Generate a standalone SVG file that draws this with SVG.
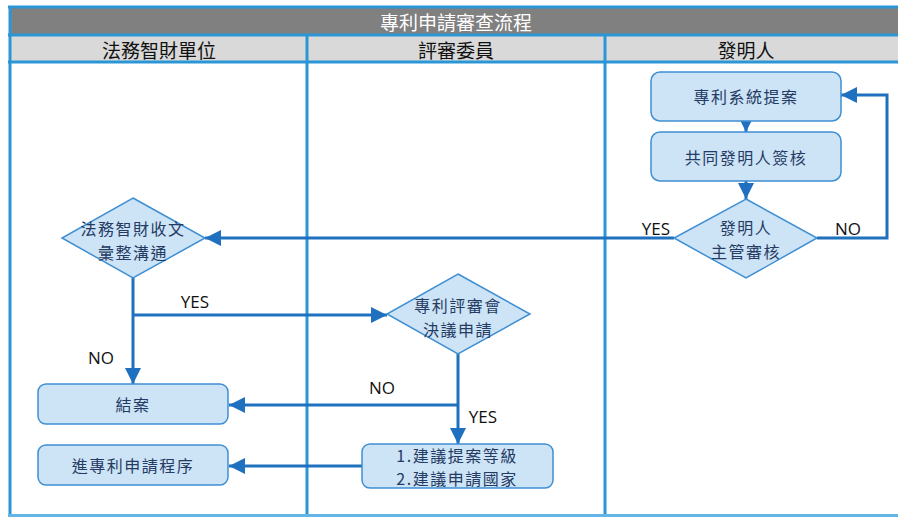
<svg xmlns="http://www.w3.org/2000/svg" width="898" height="517" viewBox="0 0 898 517">
<style>
.lane{stroke:#2b95d6;stroke-width:3;fill:none}
.node{fill:#cde3f6;stroke:#3f8fd2;stroke-width:1.5}
.nt{font-family:"Noto Sans CJK TC","Noto Sans",sans-serif;font-size:16px;letter-spacing:1.5px;fill:#243b63;text-anchor:middle;dominant-baseline:central}
.hd{font-family:"Noto Sans CJK TC",sans-serif;font-size:19px;text-anchor:middle;dominant-baseline:central}
.conn{stroke:#1f70be;stroke-width:3;fill:none}
.lb{font-family:"Open Sans","Noto Sans",sans-serif;font-size:17px;fill:#111;text-anchor:middle;dominant-baseline:central}
</style>
<defs>
<marker id="ah" markerUnits="userSpaceOnUse" markerWidth="16" markerHeight="16" refX="14" refY="7" orient="auto" viewBox="0 0 14 14">
<path d="M0,0 L14,7 L0,14 z" fill="#1f70be"/>
</marker>
</defs>
<rect x="0" y="0" width="898" height="517" fill="#fff"/>
<g id="frame">
<rect x="10" y="8" width="890" height="26" fill="#808080"/>
<rect x="10" y="35" width="890" height="27" fill="#d9d9d9"/>
<line class="lane" x1="8" y1="7" x2="898" y2="7"/>
<line class="lane" x1="8" y1="35" x2="898" y2="35"/>
<line class="lane" x1="8" y1="62" x2="898" y2="62"/>
<line class="lane" x1="10" y1="6" x2="10" y2="517"/>
<line class="lane" x1="307" y1="35" x2="307" y2="517"/>
<line class="lane" x1="605" y1="35" x2="605" y2="517"/>
<line x1="8" y1="515.5" x2="898" y2="515.5" stroke="#62b6e6" stroke-width="3"/>
<text class="hd" x="456" y="21" fill="#fff">專利申請審查流程</text>
<text class="hd" x="159" y="49" fill="#111">法務智財單位</text>
<text class="hd" x="456" y="49" fill="#111">評審委員</text>
<text class="hd" x="746" y="49" fill="#111">發明人</text>
</g>
<g id="connectors">
<path class="conn" d="M746,121 V132" marker-end="url(#ah)"/>
<path class="conn" d="M746,181 V199" marker-end="url(#ah)"/>
<path class="conn" d="M817,238 H887 V95 H841" marker-end="url(#ah)"/>
<path class="conn" d="M674,238 H205" marker-end="url(#ah)"/>
<path class="conn" d="M133,278 V384" marker-end="url(#ah)"/>
<path class="conn" d="M133,315 H387" marker-end="url(#ah)"/>
<path class="conn" d="M458,354 V444" marker-end="url(#ah)"/>
<path class="conn" d="M458,405 H229" marker-end="url(#ah)"/>
<path class="conn" d="M362,466 H229" marker-end="url(#ah)"/>
<text class="lb" x="656" y="228">YES</text>
<text class="lb" x="848" y="228">NO</text>
<text class="lb" x="195" y="301">YES</text>
<text class="lb" x="101" y="357">NO</text>
<text class="lb" x="382" y="387">NO</text>
<text class="lb" x="483" y="416">YES</text>
</g>
<g id="n1">
<rect class="node" x="651" y="72" width="190" height="49" rx="9"/>
<text class="nt" x="746" y="96">專利系統提案</text>
</g>
<g id="n2">
<rect class="node" x="651" y="132" width="190" height="49" rx="9"/>
<text class="nt" x="746" y="157">共同發明人簽核</text>
</g>
<g id="n3">
<polygon class="node" points="746,199 817,238 746,278 674,238"/>
<text class="nt" x="746" y="227">發明人</text>
<text class="nt" x="746" y="251">主管審核</text>
</g>
<g id="n4">
<polygon class="node" points="133,198 205,238 133,278 62,238"/>
<text class="nt" x="133" y="228">法務智財收文</text>
<text class="nt" x="133" y="252">彙整溝通</text>
</g>
<g id="n5">
<polygon class="node" points="458,274 530,314 458,354 387,314"/>
<text class="nt" x="458" y="305">專利評審會</text>
<text class="nt" x="458" y="329">決議申請</text>
</g>
<g id="n6">
<rect class="node" x="362" y="444" width="191" height="44" rx="8"/>
<text class="nt" x="457" y="455">1.建議提案等級</text>
<text class="nt" x="457" y="478">2.建議申請國家</text>
</g>
<g id="n7">
<rect class="node" x="38" y="384" width="190" height="40" rx="8"/>
<text class="nt" x="133" y="404">結案</text>
</g>
<g id="n8">
<rect class="node" x="38" y="445" width="190" height="40" rx="8"/>
<text class="nt" x="133" y="465">進專利申請程序</text>
</g>
</svg>
